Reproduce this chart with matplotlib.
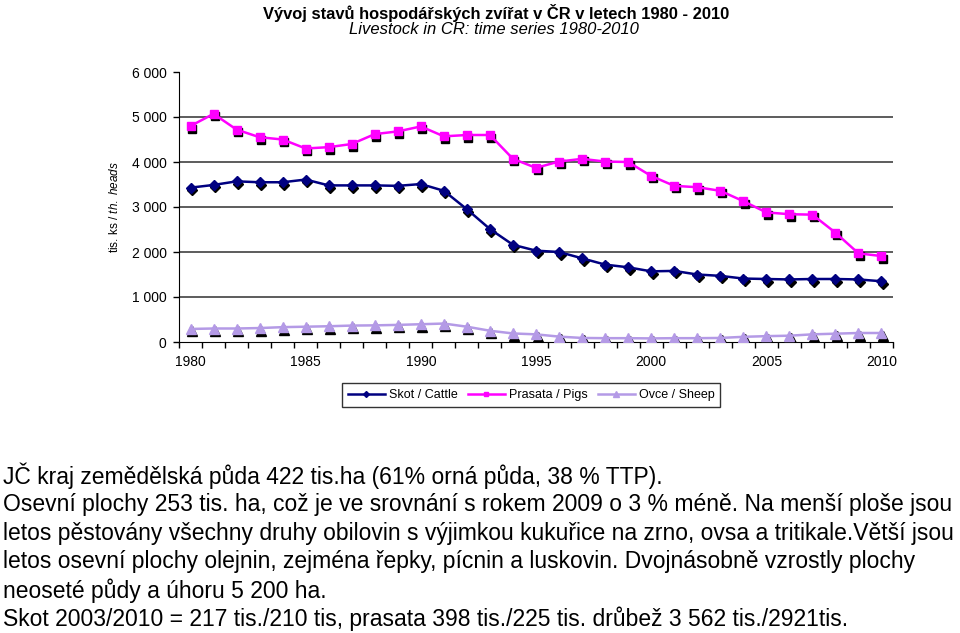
import matplotlib
matplotlib.use("Agg")
import matplotlib.pyplot as plt
import matplotlib.transforms as mtransforms
from matplotlib.ticker import FixedLocator, FuncFormatter

plt.rcParams['font.family'] = ['Liberation Sans', 'DejaVu Sans']
plt.rcParams['mathtext.fontset'] = 'custom'
plt.rcParams['mathtext.rm'] = 'Liberation Sans'
plt.rcParams['mathtext.it'] = 'Liberation Sans:italic'

years = list(range(1980, 2011))
cattle = [3430, 3490, 3570, 3550, 3550, 3610, 3480, 3480, 3480, 3470, 3510,
          3360, 2950, 2510, 2160, 2030, 2000, 1860, 1720, 1660, 1570,
          1580, 1500, 1470, 1410, 1400, 1390, 1400, 1400, 1390, 1350]
pigs = [4800, 5070, 4720, 4550, 4500, 4300, 4330, 4400, 4620, 4680, 4790,
        4570, 4600, 4600, 4070, 3870, 4010, 4070, 4010, 4000, 3690,
        3470, 3440, 3360, 3130, 2880, 2840, 2830, 2430, 1970, 1910]
sheep = [290, 300, 300, 310, 330, 340, 350, 365, 370, 380, 395,
         410, 340, 250, 190, 170, 120, 90, 85, 85, 80,
         85, 85, 90, 115, 130, 140, 170, 185, 200, 200]
series_labels = ['Skot / Cattle', 'Prasata / Pigs', 'Ovce / Sheep']
yticks = [0, 1000, 2000, 3000, 4000, 5000, 6000]
xlabels = [1980, 1985, 1990, 1995, 2000, 2005, 2010]

title = 'Vývoj stavů hospodářských zvířat v ČR v letech 1980 - 2010'
subtitle = 'Livestock in CR: time series 1980-2010'
body = [
    'JČ kraj zemědělská půda 422 tis.ha (61% orná půda, 38 % TTP).',
    'Osevní plochy 253 tis. ha, což je ve srovnání s rokem 2009 o 3 % méně. Na menší ploše jsou',
    'letos pěstovány všechny druhy obilovin s výjimkou kukuřice na zrno, ovsa a tritikale.Větší jsou',
    'letos osevní plochy olejnin, zejména řepky, pícnin a luskovin. Dvojnásobně vzrostly plochy',
    'neoseté půdy a úhoru 5 200 ha.',
    'Skot 2003/2010 = 217 tis./210 tis, prasata 398 tis./225 tis. drůbež 3 562 tis./2921tis.',
]

W, H = 960, 633
fig = plt.figure(figsize=(W / 100, H / 100), dpi=100)
ax = fig.add_axes([179 / W, 1 - 342 / H, (893 - 179) / W, (342 - 72) / H])

shadow = mtransforms.offset_copy(ax.transData, fig=fig, x=1.5, y=-2.5, units='dots')
styles = [
    (cattle, '#000080', 'D', 5),
    (pigs, '#FF00FF', 's', 6),
    (sheep, '#B49AE6', '^', 7),
]
for (vals, col, mk, ms), lab in zip(styles, series_labels):
    ax.plot(years, vals, linestyle='none', marker=mk, markersize=ms,
            color='black', transform=shadow, zorder=3)
    ax.plot(years, vals, color=col, lw=1.8, marker=mk, markersize=ms,
            markeredgecolor=col, label=lab, zorder=4)

ax.set_xlim(1979.5, 2010.5)
ax.set_ylim(0, 6000)
for yv in yticks[1:-1]:
    ax.axhline(yv, color='#303030', lw=1.1, zorder=1)

ax.spines['top'].set_visible(False)
ax.spines['right'].set_visible(False)
ax.spines['left'].set_color('black')
ax.spines['bottom'].set_color('black')

ax.set_yticks(yticks)
ax.yaxis.set_major_formatter(FuncFormatter(lambda v, p: f'{int(v):,}'.replace(',', ' ')))
ax.tick_params(axis='y', direction='out', length=4, width=1, labelsize=10, pad=5)

ax.set_xticks(xlabels)
ax.set_xticklabels([str(x) for x in xlabels])
ax.xaxis.set_minor_locator(FixedLocator([y - 0.5 for y in years] + [2010.5]))
ax.tick_params(axis='x', which='major', length=0, labelsize=10, pad=9)
ax.tick_params(axis='x', which='minor', direction='out', length=4, width=1)

fig.text(115 / W, 1 - 207 / H, r'tis. ks / $\mathit{th.\ heads}$', rotation=90,
         ha='center', va='center', fontsize=8.5)

fig.text(496 / W, 1 - 13 / H, title, ha='center', va='center',
         fontsize=11.9, fontweight='bold')
fig.text(494 / W, 1 - 30 / H, subtitle, ha='center', va='center',
         fontsize=12, fontstyle='italic')

leg = fig.legend(loc='center', bbox_to_anchor=(531 / W, 1 - 395 / H), ncol=3,
                 fontsize=9, frameon=True, fancybox=False, edgecolor='black',
                 handlelength=3, handletextpad=0.3, columnspacing=0.8,
                 borderpad=0.45, markerscale=0.6)
leg.get_frame().set_linewidth(1)

y0 = 476
for i, line in enumerate(body):
    fig.text(3 / W, 1 - (y0 + i * 28.6) / H, line, ha='left', va='center',
             fontsize=16.5, color='black')

fig.savefig('out.png', dpi=100)
